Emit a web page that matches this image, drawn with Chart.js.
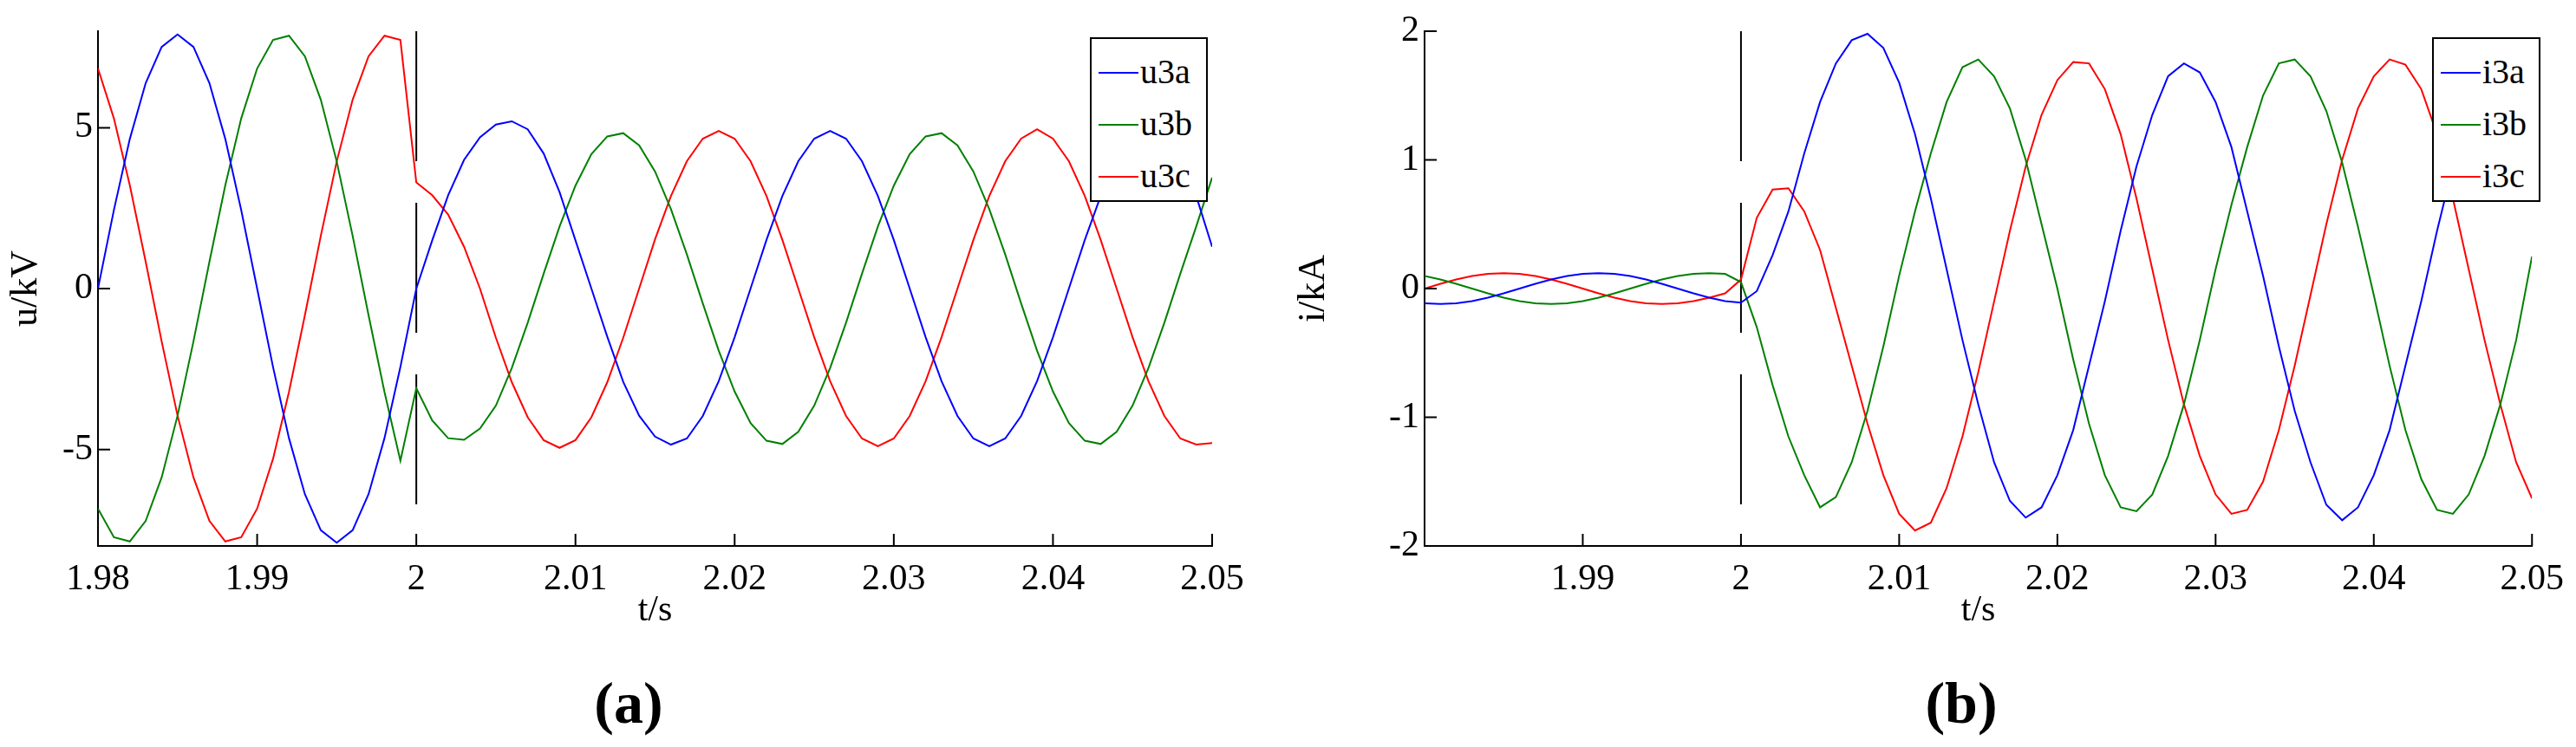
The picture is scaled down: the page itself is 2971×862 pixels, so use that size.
<!DOCTYPE html>
<html>
<head>
<meta charset="utf-8">
<script src="https://cdn.jsdelivr.net/npm/chart.js@4.4.1/dist/chart.umd.min.js"></script>
<style>
  body { margin: 0; background: #fff; width: 2971px; height: 862px; position: relative; overflow: hidden; font-family: "Liberation Serif", serif; }
  .wrap { position: absolute; top: 0; height: 862px; }
  .legend { position: absolute; border: 2px solid #000; background: #fff; font-size: 40px; }
  .legend div { position: absolute; left: 0; height: 40px; line-height: 40px; }
  .legend span.ln { position: absolute; top: 20px; height: 2px; }
  .legend span.tx { position: absolute; }
  .cap { position: absolute; font-size: 68px; font-weight: bold; transform: translateX(-50%); top: 772px; }
</style>
</head>
<body>
<div class="wrap" style="left:0;width:1485px"><canvas id="chartA"></canvas></div>
<div class="wrap" style="left:1485px;width:1486px"><canvas id="chartB"></canvas></div>
<div class="cap" style="left:725px">(a)</div>
<div class="cap" style="left:2262px">(b)</div>
<div id="legA" class="legend" style="left:1257px;top:43px;width:132px;height:186px"></div>
<div id="legB" class="legend" style="left:2805px;top:43px;width:121px;height:186px"></div>
<script>
// sample times (s)
const times = [
  1.980, 1.981, 1.982, 1.983, 1.984, 1.985, 1.986, 1.987, 1.988, 1.989,
  1.990, 1.991, 1.992, 1.993, 1.994, 1.995, 1.996, 1.997, 1.998, 1.999,
  2.000, 2.001, 2.002, 2.003, 2.004, 2.005, 2.006, 2.007, 2.008, 2.009,
  2.010, 2.011, 2.012, 2.013, 2.014, 2.015, 2.016, 2.017, 2.018, 2.019,
  2.020, 2.021, 2.022, 2.023, 2.024, 2.025, 2.026, 2.027, 2.028, 2.029,
  2.030, 2.031, 2.032, 2.033, 2.034, 2.035, 2.036, 2.037, 2.038, 2.039,
  2.040, 2.041, 2.042, 2.043, 2.044, 2.045, 2.046, 2.047, 2.048, 2.049,
  2.050
];

// voltages (kV)
const u3a = [
  0, 2.44, 4.65, 6.39, 7.51, 7.9, 7.51, 6.39, 4.65, 2.44,
  0, -2.44, -4.65, -6.39, -7.51, -7.9, -7.51, -6.39, -4.65, -2.44,
  0, 1.5, 2.9, 4.0, 4.7, 5.1, 5.2, 4.95, 4.2, 3.0,
  1.5, 0, -1.5, -2.9, -3.95, -4.6, -4.85, -4.66, -3.96, -2.88,
  -1.51, 0, 1.51, 2.88, 3.96, 4.66, 4.9, 4.66, 3.96, 2.88,
  1.51, 0, -1.51, -2.88, -3.96, -4.66, -4.9, -4.66, -3.96, -2.88,
  -1.51, 0, 1.51, 2.88, 3.96, 4.66, 4.9, 4.66, 3.96, 2.88,
  1.3
];
const u3b = [
  -6.84, -7.73, -7.86, -7.22, -5.87, -3.95, -1.64, 0.83, 3.21, 5.29,
  6.84, 7.73, 7.86, 7.22, 5.87, 3.95, 1.64, -0.83, -3.21, -5.35,
  -3.1, -4.1, -4.65, -4.7, -4.35, -3.64, -2.47, -1.06, 0.46, 1.93,
  3.2, 4.18, 4.73, 4.83, 4.45, 3.64, 2.47, 1.06, -0.46, -1.93,
  -3.2, -4.18, -4.73, -4.83, -4.45, -3.64, -2.47, -1.06, 0.46, 1.93,
  3.2, 4.18, 4.73, 4.83, 4.45, 3.64, 2.47, 1.06, -0.46, -1.93,
  -3.2, -4.18, -4.73, -4.83, -4.45, -3.64, -2.47, -1.06, 0.46, 1.93,
  3.45
];
const u3c = [
  6.84, 5.29, 3.21, 0.83, -1.64, -3.95, -5.87, -7.22, -7.86, -7.73,
  -6.84, -5.29, -3.21, -0.83, 1.64, 3.95, 5.87, 7.22, 7.86, 7.73,
  3.3, 2.9, 2.3, 1.3, 0, -1.53, -2.91, -4.0, -4.71, -4.95,
  -4.71, -4.0, -2.91, -1.53, 0, 1.53, 2.88, 3.96, 4.66, 4.9,
  4.66, 3.96, 2.88, 1.51, 0, -1.51, -2.88, -3.96, -4.66, -4.9,
  -4.66, -3.96, -2.88, -1.51, 0, 1.51, 2.88, 3.96, 4.66, 4.95,
  4.66, 3.96, 2.88, 1.51, 0, -1.51, -2.88, -3.96, -4.66, -4.85,
  -4.8
];

// currents (kA)
const i3a = [
  -0.114, -0.12, -0.114, -0.097, -0.071, -0.037, 0, 0.037, 0.071, 0.097,
  0.114, 0.12, 0.114, 0.097, 0.071, 0.037, 0, -0.037, -0.071, -0.097,
  -0.11, -0.02, 0.26, 0.6, 1.05, 1.45, 1.75, 1.93, 1.98, 1.87,
  1.6, 1.2, 0.7, 0.15, -0.4, -0.9, -1.35, -1.65, -1.78, -1.7,
  -1.45, -1.1, -0.6, -0.1, 0.45, 0.95, 1.35, 1.65, 1.75, 1.68,
  1.45, 1.1, 0.6, 0.1, -0.45, -0.95, -1.35, -1.68, -1.8, -1.7,
  -1.45, -1.1, -0.6, -0.1, 0.45, 0.95, 1.35, 1.65, 1.75, 1.68,
  1.4
];
const i3b = [
  0.097, 0.071, 0.037, 0, -0.037, -0.071, -0.097, -0.114, -0.12, -0.114,
  -0.097, -0.071, -0.037, 0, 0.037, 0.071, 0.097, 0.114, 0.12, 0.114,
  0.05, -0.3, -0.75, -1.15, -1.45, -1.7, -1.62, -1.35, -0.95, -0.45,
  0.1, 0.6, 1.05, 1.45, 1.72, 1.78, 1.65, 1.4, 1.0, 0.5,
  0, -0.55, -1.05, -1.45, -1.7, -1.73, -1.6, -1.3, -0.9, -0.4,
  0.15, 0.65, 1.1, 1.5, 1.75, 1.78, 1.65, 1.38, 0.98, 0.48,
  -0.05, -0.6, -1.1, -1.48, -1.72, -1.75, -1.6, -1.3, -0.9, -0.4,
  0.25
];
const i3c = [
  0, 0.037, 0.071, 0.097, 0.114, 0.12, 0.114, 0.097, 0.071, 0.037,
  0, -0.037, -0.071, -0.097, -0.114, -0.12, -0.114, -0.097, -0.071, -0.037,
  0.07, 0.55, 0.77, 0.78, 0.6, 0.3, -0.15, -0.6, -1.05, -1.45,
  -1.75, -1.88, -1.82, -1.55, -1.15, -0.65, -0.1, 0.45, 0.95, 1.35,
  1.62, 1.76, 1.75, 1.55, 1.2, 0.7, 0.15, -0.4, -0.9, -1.3,
  -1.6, -1.75, -1.72, -1.5, -1.1, -0.6, -0.05, 0.5, 1.0, 1.4,
  1.65, 1.78, 1.74, 1.55, 1.2, 0.7, 0.15, -0.4, -0.9, -1.35,
  -1.63
];

const xTicks = [1.98, 1.99, 2.00, 2.01, 2.02, 2.03, 2.04, 2.05];
const uTicks = [-5, 0, 5];
const iTicks = [-2, -1, 0, 1, 2];
const faultTime = 2.0;

const FONT = "'Liberation Serif', serif";
const pts = arr => times.map((t, k) => ({ x: t, y: arr[k] }));
const fmt = v => String(Number(v.toFixed(2)));

// MATLAB-style inward tick marks
const inwardTicks = {
  id: 'inwardTicks',
  afterDatasetsDraw(chart) {
    const { ctx, chartArea: a, scales: { x, y } } = chart;
    ctx.save();
    ctx.strokeStyle = '#000';
    ctx.lineWidth = 2;
    ctx.beginPath();
    x.ticks.forEach(t => { const px = x.getPixelForValue(t.value); ctx.moveTo(px, a.bottom); ctx.lineTo(px, a.bottom - 14); });
    y.ticks.forEach(t => { const py = y.getPixelForValue(t.value); ctx.moveTo(a.left, py); ctx.lineTo(a.left + 14, py); });
    ctx.stroke();
    ctx.restore();
  }
};

function makeChart(id, series, yMin, yMax, yTicks, yTitle, yWidth, padRight, hideFirstX) {
  const colors = ['#0000ff', '#008000', '#ff0000'];
  const datasets = series.map((s, k) => ({
    data: pts(s), borderColor: colors[k], borderWidth: 2, pointRadius: 0, tension: 0
  }));
  datasets.push({
    data: [{ x: faultTime, y: yMax }, { x: faultTime, y: yMin }],
    borderColor: '#000', borderWidth: 2, borderDash: [150, 48], pointRadius: 0
  });
  return new Chart(document.getElementById(id), {
    type: 'line',
    data: { datasets },
    plugins: [inwardTicks],
    options: {
      responsive: false, animation: false, devicePixelRatio: 1,
      layout: { padding: { top: 36, right: padRight, bottom: 132, left: 0 } },
      plugins: { legend: { display: false }, tooltip: { enabled: false } },
      scales: {
        x: {
          type: 'linear', min: 1.98, max: 2.05,
          afterBuildTicks: s => { s.ticks = xTicks.map(v => ({ value: v })); },
          afterFit: s => { s.height = 100; },
          grid: { display: false, drawTicks: false },
          border: { color: '#000', width: 2 },
          ticks: { color: '#000', font: { family: FONT, size: 42 }, padding: 14, maxRotation: 0,
                   callback: (v, k) => (hideFirstX && k === 0) ? '' : fmt(v) },
          title: { display: true, text: 't/s', color: '#000', font: { family: FONT, size: 42 }, padding: 0 }
        },
        y: {
          min: yMin, max: yMax,
          afterBuildTicks: s => { s.ticks = yTicks.map(v => ({ value: v })); },
          afterFit: s => { s.width = yWidth; },
          grid: { display: false, drawTicks: false },
          border: { color: '#000', width: 2 },
          ticks: { color: '#000', font: { family: FONT, size: 42 }, padding: 6 },
          title: { display: true, text: yTitle, color: '#000', font: { family: FONT, size: 44 }, padding: 4 }
        }
      }
    }
  });
}

function makeLegend(id, names) {
  const colors = ['#0000ff', '#008000', '#ff0000'];
  const el = document.getElementById(id);
  names.forEach((n, k) => {
    const row = document.createElement('div');
    row.style.top = (18 + k * 60) + 'px';
    row.style.width = '100%';
    row.innerHTML = `<span class="ln" style="left:8px;width:46px;background:${colors[k]}"></span><span class="tx" style="left:56px">${n}</span>`;
    el.appendChild(row);
  });
}

const cA = document.getElementById('chartA'); cA.width = 1485; cA.height = 862;
const cB = document.getElementById('chartB'); cB.width = 1486; cB.height = 862;
makeChart('chartA', [u3a, u3b, u3c], -8, 8, uTicks, 'u/kV', 113, 87, false);
makeChart('chartB', [i3a, i3b, i3c], -2, 2, iTicks, 'i/kA', 158, 36, true);
makeLegend('legA', ['u3a', 'u3b', 'u3c']);
makeLegend('legB', ['i3a', 'i3b', 'i3c']);
</script>
</body>
</html>
